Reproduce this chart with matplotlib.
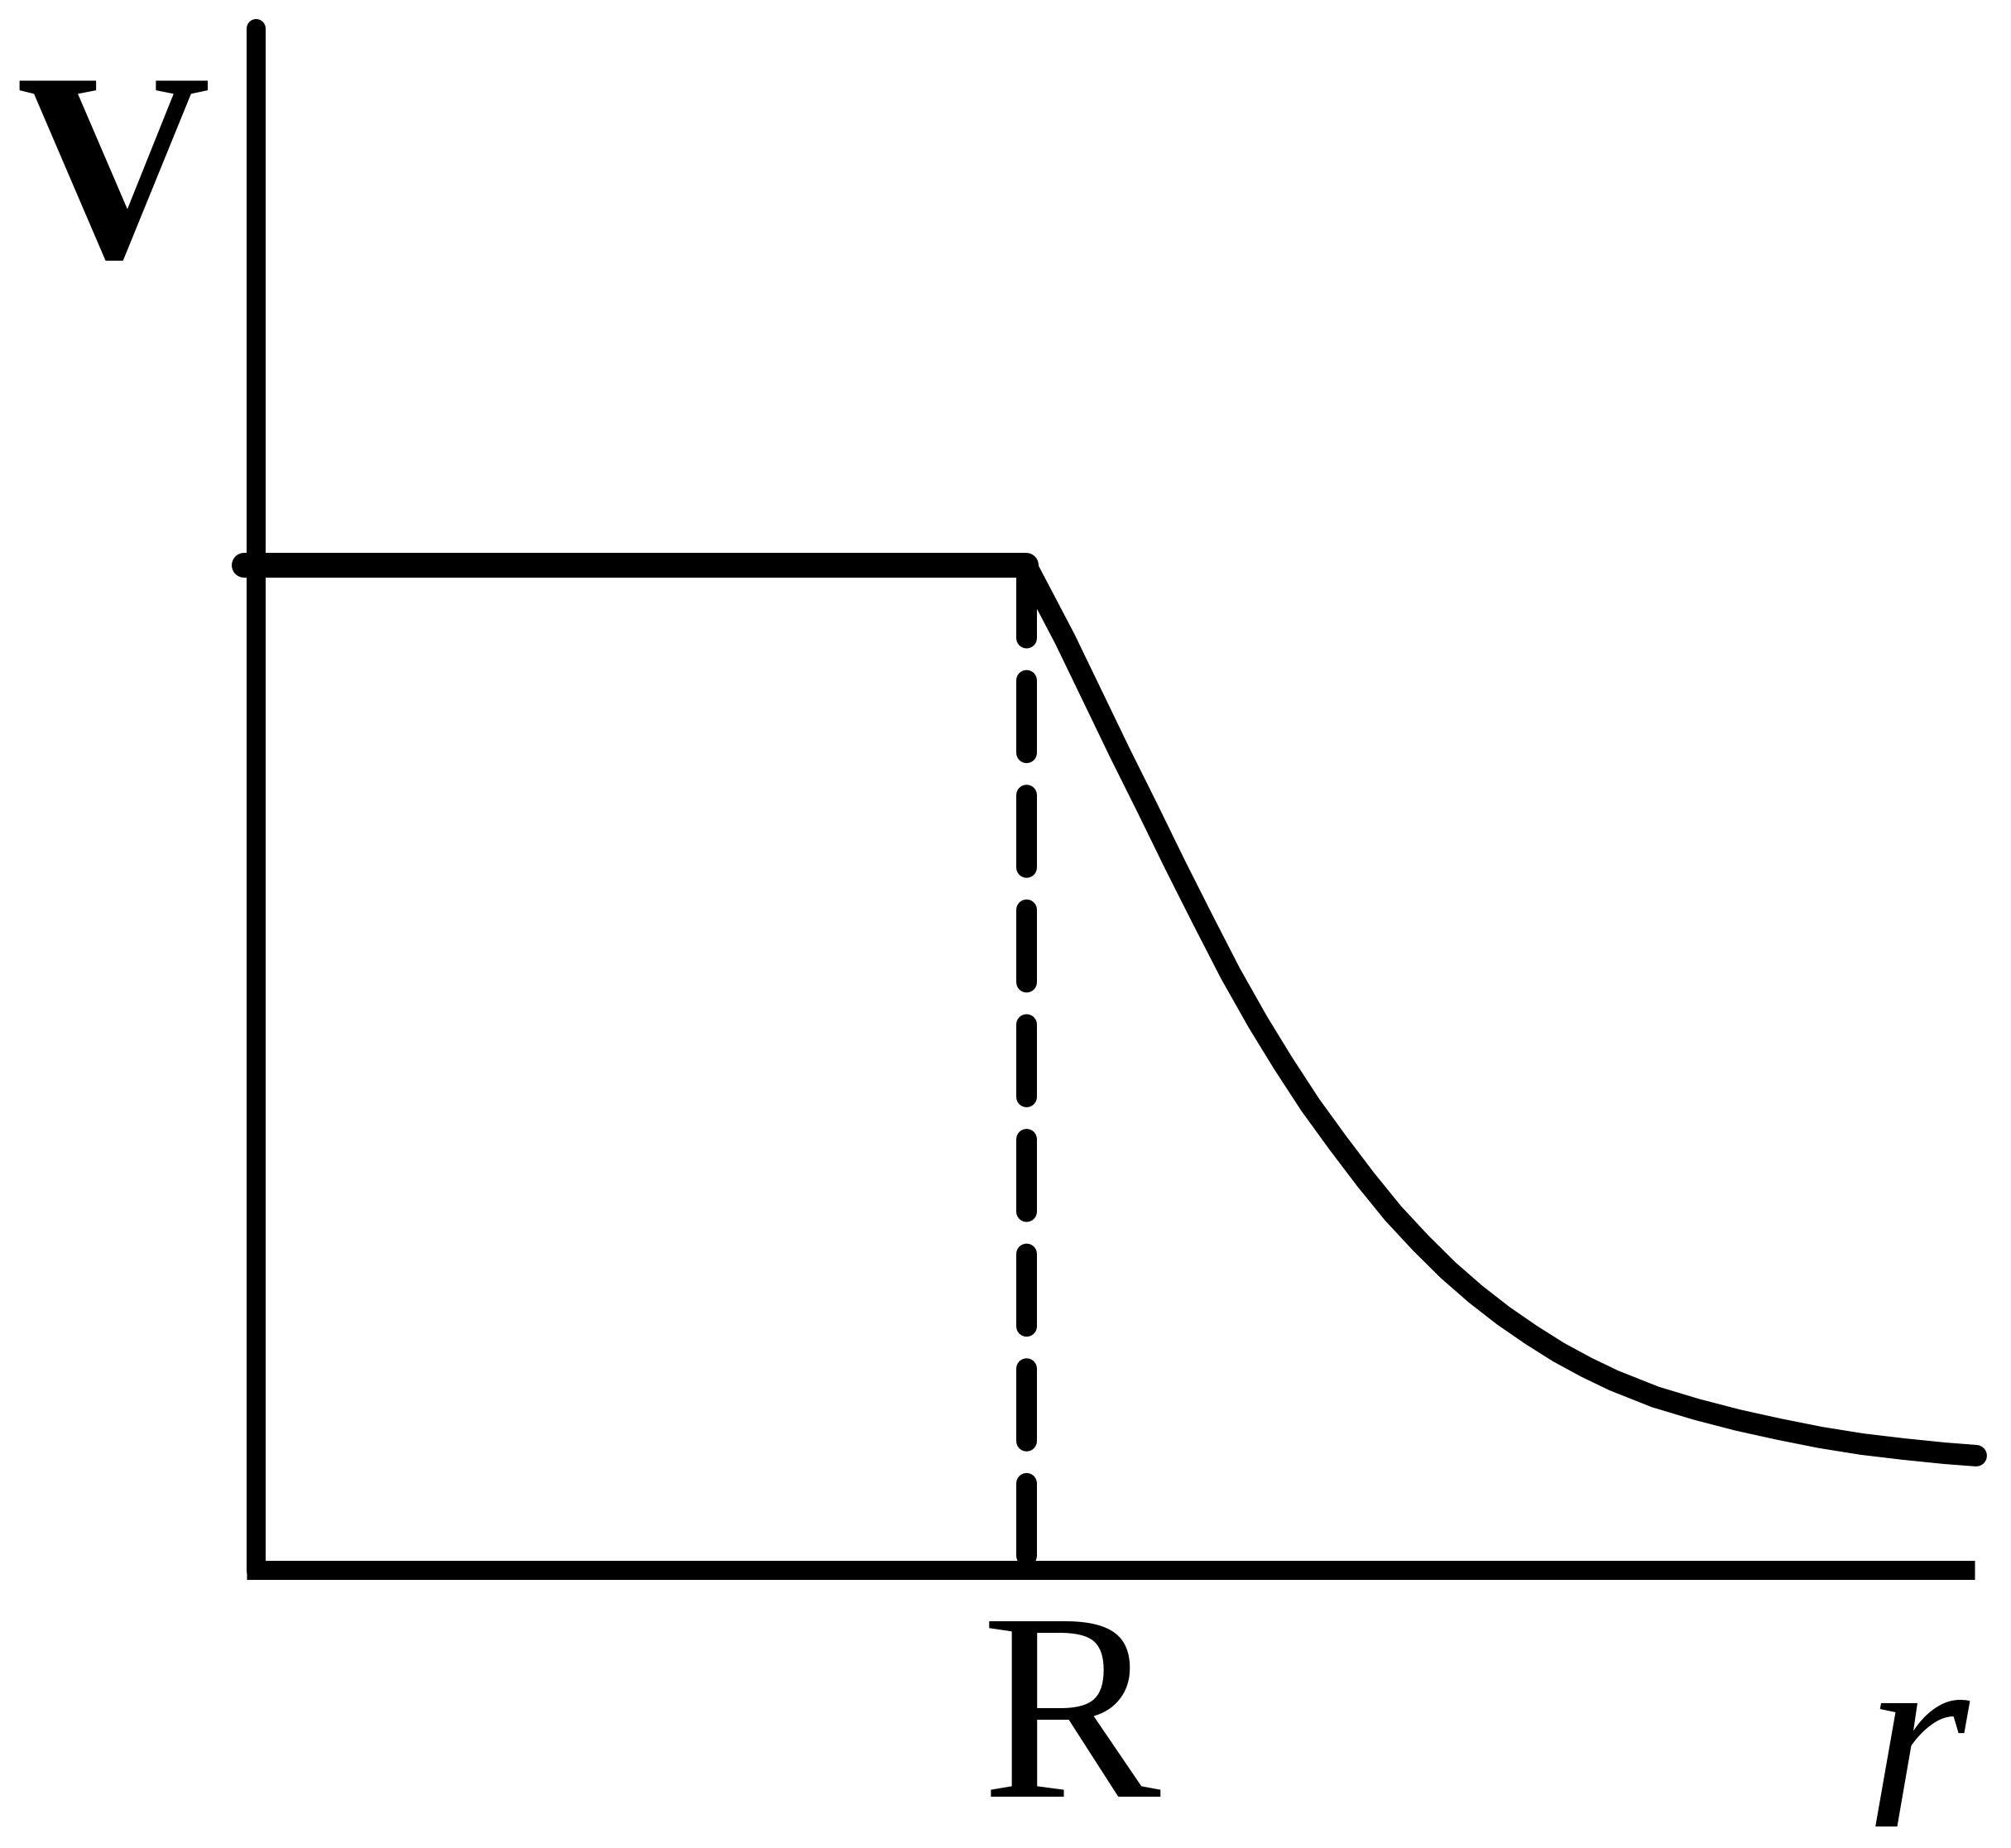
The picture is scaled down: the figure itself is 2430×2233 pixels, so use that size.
import matplotlib
matplotlib.use("Agg")
import matplotlib.pyplot as plt
from matplotlib import font_manager as fm

# potential of a charged sphere, r in units of R, V in units of V0
r_in = [-0.016, 1.0]
v_in = [1.0, 1.0]
r_out = [1.0000, 1.0502, 1.0860, 1.1218, 1.1577, 1.1934, 1.2292, 1.2651,
         1.3009, 1.3332, 1.3689, 1.4048, 1.4406, 1.4764, 1.5123, 1.5481,
         1.5839, 1.6198, 1.6556, 1.6914, 1.7272, 1.7630, 1.8168, 1.8705,
         1.9242, 1.9780, 2.0317, 2.0854, 2.1392, 2.1929, 2.2337]
v_out = [1.0000, 0.9267, 0.8699, 0.8130, 0.7578, 0.7018, 0.6474, 0.5939,
         0.5453, 0.5049, 0.4629, 0.4250, 0.3888, 0.3550, 0.3254, 0.2982,
         0.2743, 0.2529, 0.2340, 0.2167, 0.2018, 0.1886, 0.1722, 0.1598,
         0.1491, 0.1400, 0.1318, 0.1252, 0.1203, 0.1161, 0.1137]
R_pos = 1.0
x_end = 2.232
y_top = 1.535

plt.rcParams['lines.scale_dashes'] = False

# pick a Times-like serif if there is one
have = {f.name for f in fm.fontManager.ttflist}
serif = "DejaVu Serif"
for name in ["Liberation Serif", "Times New Roman", "Nimbus Roman", "TeX Gyre Termes"]:
    if name in have:
        serif = name
        break
size = 234 if serif != "DejaVu Serif" else 212

fig = plt.figure(figsize=(24.30, 22.33), dpi=100)
ax = fig.add_axes([0, 0, 1, 1])
ax.set_xlim(-0.3326, 2.2789)
ax.set_ylim(-0.2768, 1.5626)
ax.axis("off")

# axes drawn by hand
ax.plot([0, 0], [y_top, 0], color="black", lw=16.6, solid_capstyle="round")
ax.plot([-0.0124, x_end], [0, 0], color="black", lw=16.6, solid_capstyle="butt")

# inside / outside
ax.plot(r_in, v_in, color="black", lw=21.6, solid_capstyle="round")
ax.plot(r_out, v_out, color="black", lw=18.7, solid_capstyle="round",
        solid_joinstyle="round")

# dashed line at r = R
dash, = ax.plot([R_pos, R_pos], [1.0, 0.0], color="black", lw=18,
                dash_capstyle="round")
dash.set_dashes((63, 36.8))

ax.text(-0.1854, 1.3072, "V", fontsize=size, family=serif, weight="bold",
        ha="center", va="baseline")
ax.text(1.0586, -0.226, "R", fontsize=size, family=serif,
        ha="center", va="baseline")
ax.text(2.157, -0.255, "r", fontsize=size, family=serif, style="italic",
        ha="center", va="baseline")

fig.savefig("out.png", dpi=100, facecolor="white")
